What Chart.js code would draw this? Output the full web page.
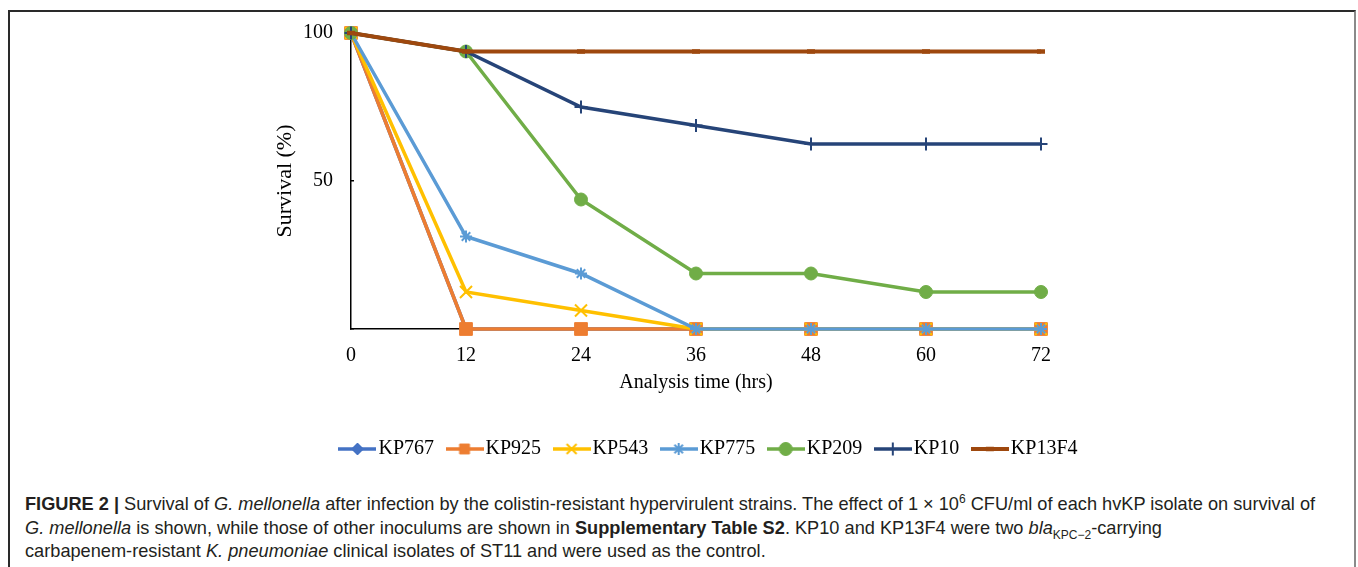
<!DOCTYPE html>
<html>
<head>
<meta charset="utf-8">
<script src="https://cdn.jsdelivr.net/npm/chart.js@4.4.1/dist/chart.umd.min.js"></script>
<style>
  html, body { margin: 0; padding: 0; background: #fff; }
  body { width: 1358px; height: 567px; position: relative; overflow: hidden; }
  #frame { position: absolute; left: 8px; top: 10px; width: 1348px; height: 600px;
           border: 2px solid #2a2a2a; border-right-color: #8a8a8a; box-sizing: border-box; }
  #wrap { position: absolute; left: 0; top: 0; width: 1358px; height: 480px; }
  #caption { position: absolute; left: 25px; top: 493px; font-family: "Liberation Sans", Arial, sans-serif;
             font-size: 18.2px; line-height: 23.5px; color: #231f20; white-space: nowrap; }
  #caption sup, #caption sub { font-size: 12px; line-height: 0; }
</style>
</head>
<body>
<div id="frame"></div>
<div id="wrap"><canvas id="c" width="1358" height="480"></canvas></div>
<div id="caption">
<b>FIGURE 2 |</b> Survival of <i>G. mellonella</i> after infection by the colistin-resistant hypervirulent strains. The effect of 1 × 10<sup>6</sup> CFU/ml of each hvKP isolate on survival of<br>
<i>G. mellonella</i> is shown, while those of other inoculums are shown in <b>Supplementary Table S2</b>. KP10 and KP13F4 were two <i>bla</i><sub>KPC−2</sub>-carrying<br>
carbapenem-resistant <i>K. pneumoniae</i> clinical isolates of ST11 and were used as the control.
</div>
<script>
// ---- data ----
const hours = [0, 12, 24, 36, 48, 60, 72];
const xTicks = [0, 12, 24, 36, 48, 60, 72];
const yTicks = [50, 100];
const seriesNames = ['KP767', 'KP925', 'KP543', 'KP775', 'KP209', 'KP10', 'KP13F4'];
const KP767  = [100, 0, 0, 0, 0, 0, 0];
const KP925  = [100, 0, 0, 0, 0, 0, 0];
const KP543  = [100, 12.5, 6.25, 0, 0, 0, 0];
const KP775  = [100, 31.25, 18.75, 0, 0, 0, 0];
const KP209  = [100, 93.75, 43.75, 18.75, 18.75, 12.5, 12.5];
const KP10   = [100, 93.75, 75, 68.75, 62.5, 62.5, 62.5];
const KP13F4 = [100, 93.75, 93.75, 93.75, 93.75, 93.75, 93.75];
const seriesValues = [KP767, KP925, KP543, KP775, KP209, KP10, KP13F4];

// ---- styles ----
const styles = [
  { color: '#4472C4', point: 'rectRot',  radius: 6,   pbw: 1,   lw: 3.5 },
  { color: '#ED7D31', point: 'rect',     radius: 9,   pbw: 1,   lw: 3.5 },
  { color: '#FFC000', point: 'crossRot', radius: 8.5, pbw: 2,   lw: 3.5 },
  { color: '#5B9BD5', point: 'star',     radius: 6,   pbw: 2,   lw: 3.5 },
  { color: '#70AD47', point: 'circle',   radius: 6.5, pbw: 1,   lw: 3.5 },
  { color: '#264478', point: 'cross',    radius: 6.5, pbw: 2,   lw: 3.5 },
  { color: '#9E480E', point: 'line',     radius: 4,   pbw: 4.5, lw: 4 }
];

function legendIcon(st) {
  const cv = document.createElement('canvas');
  cv.width = 38; cv.height = 20;
  const ctx = cv.getContext('2d');
  ctx.strokeStyle = st.color; ctx.lineWidth = st.lw; ctx.lineCap = 'butt';
  ctx.beginPath(); ctx.moveTo(0, 10); ctx.lineTo(38, 10); ctx.stroke();
  ctx.fillStyle = st.color; ctx.strokeStyle = st.color; ctx.lineWidth = st.pbw;
  Chart.helpers.drawPoint(ctx, { pointStyle: st.point, radius: Math.min(st.radius, 7), rotation: 0, borderWidth: st.pbw }, 19, 10);
  return cv;
}
const icons = styles.map(legendIcon);

const datasets = seriesNames.map((name, i) => ({
  label: name,
  data: hours.map((h, j) => ({ x: h, y: seriesValues[i][j] })),
  borderColor: styles[i].color,
  backgroundColor: styles[i].color,
  pointBackgroundColor: styles[i].color,
  pointBorderColor: styles[i].color,
  pointStyle: styles[i].point,
  pointRadius: styles[i].radius,
  pointBorderWidth: styles[i].pbw,
  borderWidth: styles[i].lw,
  tension: 0,
  clip: false,
  order: seriesNames.length - i
}));

const serif = "'Liberation Serif', 'Times New Roman', serif";

new Chart(document.getElementById('c'), {
  type: 'line',
  data: { datasets },
  options: {
    responsive: false,
    animation: false,
    events: [],
    layout: { padding: { left: 66, right: 0, top: 33, bottom: 11 } },
    plugins: {
      tooltip: { enabled: false },
      legend: {
        position: 'bottom',
        labels: {
          usePointStyle: true,
          pointStyleWidth: 22,
          padding: 19.5,
          color: '#000',
          font: { family: serif, size: 20 },
          sort: (a, b) => a.datasetIndex - b.datasetIndex,
          generateLabels: (chart) => seriesNames.map((n, i) => ({
            text: n, datasetIndex: i, pointStyle: icons[i],
            fillStyle: styles[i].color, strokeStyle: styles[i].color, lineWidth: 0, hidden: false
          }))
        }
      }
    },
    scales: {
      x: {
        type: 'linear', min: 0, max: 72,
        afterBuildTicks: (s) => { s.ticks = xTicks.map(v => ({ value: v })); },
        afterFit: (s) => { s.height = 90.5; },
        grid: { display: false, drawTicks: false },
        border: { display: true, color: '#000', width: 1.5 },
        ticks: { padding: 15, color: '#000', font: { family: serif, size: 20 }, maxRotation: 0 },
        title: { display: true, text: 'Analysis time (hrs)', color: '#000',
                 font: { family: serif, size: 20 }, padding: { top: 0, bottom: 25 } }
      },
      y: {
        type: 'linear', min: 0, max: 100, position: 'left',
        afterBuildTicks: (s) => { s.ticks = [0].concat(yTicks).map(v => ({ value: v })); },
        afterFit: (s) => { s.width = 285; },
        grid: { display: true, drawOnChartArea: false, drawTicks: true, tickLength: -3, tickColor: '#000', lineWidth: 1.5 },
        border: { display: true, color: '#000', width: 1.5 },
        ticks: { padding: 21, color: '#000', font: { family: serif, size: 20 },
                 callback: (v) => yTicks.includes(v) ? String(v) : '' },
        title: { display: true, text: 'Survival (%)', color: '#000',
                 font: { family: serif, size: 22 }, padding: { top: 206, bottom: 0 } }
      },
      y2: {
        type: 'linear', position: 'right', min: 0, max: 100,
        afterFit: (s) => { s.width = 317; },
        grid: { display: false, drawTicks: false },
        border: { display: false },
        ticks: { display: false }
      }
    }
  }
});
</script>
</body>
</html>
